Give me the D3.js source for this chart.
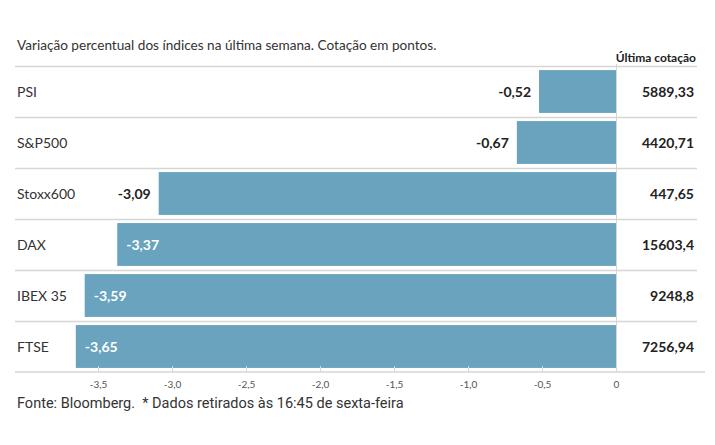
<!DOCTYPE html>
<html><head><meta charset="utf-8">
<script src="https://cdn.jsdelivr.net/npm/d3@7"></script>
<style>body{margin:0;background:#fff}svg{display:block;font-family:Lato,"Open Sans",sans-serif}</style>
</head><body><svg id="c" width="715" height="445"></svg>
<script>
const categories=["PSI","S&P500","Stoxx600","DAX","IBEX 35","FTSE"];
const values=[-0.52,-0.67,-3.09,-3.37,-3.59,-3.65];
const quotes=["5889,33","4420,71","447,65","15603,4","9248,8","7256,94"];
const ticks=[-3.5,-3.0,-2.5,-2.0,-1.5,-1.0,-0.5,0];
const svg=d3.select("#c");
const loc=d3.formatLocale({decimal:",",thousands:".",grouping:[3],currency:["","€"],minus:"-"});
const x=d3.scaleLinear().domain([-3.5,0]).range([98,616]);
const y=d3.scaleBand().domain(categories).range([66,372]).paddingInner(0.16).paddingOuter(0.08);
const rowY=d3.scaleBand().domain(categories).range([66,372]);
const fmt=loc.format(".2f");
const fmt1=loc.format(".1f");
const bar="#69a3be";
svg.append("text").attr("x",17).attr("y",50).attr("font-size",13.6).attr("fill","#333").text("Variação percentual dos índices na última semana. Cotação em pontos.");
svg.append("text").attr("x",696).attr("y",62).attr("text-anchor","end").attr("font-size",12).attr("font-weight","bold").attr("fill","#222").text("Última cotação");
svg.selectAll("line.sep").data(categories).enter().append("line")
 .attr("x1",15).attr("x2",697).attr("y1",d=>rowY(d)+0.5).attr("y2",d=>rowY(d)+0.5)
 .attr("stroke","#d6d6d6").attr("stroke-width",1.5);
svg.append("line").attr("x1",x(0)+0.5).attr("x2",x(0)+0.5).attr("y1",64).attr("y2",372).attr("stroke","#d6d6d6");
svg.selectAll("rect.b").data(values).enter().append("rect")
 .attr("x",d=>x(d)).attr("width",d=>x(0)-x(d))
 .attr("y",(d,i)=>y(categories[i])).attr("height",y.bandwidth()).attr("fill",bar);
svg.selectAll("text.cat").data(categories).enter().append("text")
 .attr("x",17).attr("y",d=>rowY(d)+rowY.bandwidth()/2+5).attr("font-size",14).attr("fill","#333").text(d=>d);
svg.selectAll("text.val").data(values).enter().append("text")
 .attr("x",d=>d<-3.2?x(d)+9:x(d)-8)
 .attr("text-anchor",d=>d<-3.2?"start":"end")
 .attr("y",(d,i)=>rowY(categories[i])+rowY.bandwidth()/2+5)
 .attr("font-size",14).attr("font-weight","bold")
 .attr("fill",d=>d<-3.2?"#fff":"#222").text(fmt);
svg.selectAll("text.q").data(quotes).enter().append("text")
 .attr("x",694).attr("text-anchor","end")
 .attr("y",(d,i)=>rowY(categories[i])+rowY.bandwidth()/2+5)
 .attr("font-size",14).attr("font-weight","bold").attr("fill","#222").text(d=>d);
svg.append("line").attr("x1",15).attr("x2",705).attr("y1",372).attr("y2",372).attr("stroke","#d6d6d6").attr("stroke-width",1.5);
const ax=svg.append("g").attr("transform","translate(0,372)")
 .call(d3.axisBottom(x).tickValues(ticks).tickSize(-6).tickPadding(9).tickFormat(d=>d===0?"0":fmt1(d)));
ax.select(".domain").remove();
ax.selectAll(".tick line").attr("stroke","#d6d6d6");
ax.selectAll(".tick text").attr("font-size",10).attr("fill","#555").attr("font-family","Lato,sans-serif");
svg.append("text").attr("x",17).attr("y",408).attr("font-size",14.5).attr("fill","#333")
 .attr("font-family","Roboto,sans-serif").style("white-space","pre")
 .text("Fonte: Bloomberg.  * Dados retirados às 16:45 de sexta-feira");
</script></body></html>
